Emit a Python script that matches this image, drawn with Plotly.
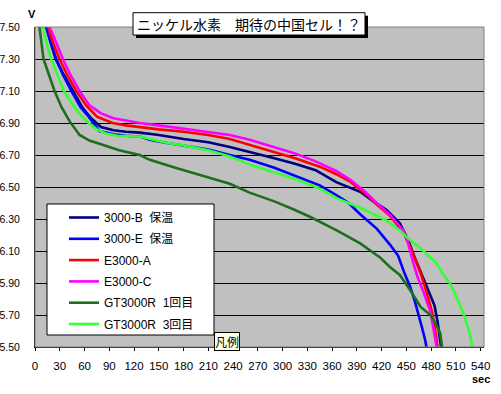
import plotly.graph_objects as go

# ---- data ----
series_names = ["3000-B\u00a0\u00a0保温", "3000-E\u00a0\u00a0保温", "E3000-A", "E3000-C",
                "GT3000R\u00a0\u00a01回目", "GT3000R\u00a0\u00a03回目"]
series_colors = ["#000080", "#0000FF", "#FF0000", "#FF00FF", "#1E6E1E", "#33FF33"]

t_b = [0, 13.6, 19, 25, 35, 46, 57, 68, 80, 95, 110, 127, 150, 180, 210, 236, 260, 290, 315,
       340, 365, 380, 394, 410, 426, 442, 452, 460, 470, 478, 484, 488, 491, 492.5]
v_b = [7.75, 7.50, 7.40, 7.30, 7.20, 7.10, 7.00, 6.93, 6.875, 6.855, 6.845, 6.84, 6.825, 6.80,
       6.78, 6.75, 6.72, 6.68, 6.645, 6.605, 6.53, 6.50, 6.47, 6.41, 6.356, 6.273, 6.17, 6.06,
       5.94, 5.84, 5.76, 5.65, 5.55, 5.48]

t_e = [0, 13.6, 19, 25.7, 34, 44, 55, 65, 78, 95, 110, 127, 139, 160, 180, 210, 236, 260, 290,
       315, 345, 365, 380, 394, 414, 430, 440, 447, 454.5, 460, 464.6, 469, 472.7, 475]
v_e = [7.75, 7.50, 7.40, 7.30, 7.20, 7.10, 7.00, 6.94, 6.85, 6.83, 6.82, 6.815, 6.795, 6.775,
       6.76, 6.735, 6.70, 6.67, 6.62, 6.57, 6.51, 6.45, 6.40, 6.33, 6.24, 6.14, 6.07, 5.97, 5.877,
       5.79, 5.71, 5.62, 5.544, 5.48]

t_a = [0, 15.5, 22, 29.7, 39, 50, 62, 75, 94, 110, 127, 150, 180, 210, 236, 260, 290, 315, 345,
       365, 382, 400, 414, 430, 446, 455, 462, 468, 474, 481, 486, 488]
v_a = [7.75, 7.50, 7.40, 7.30, 7.20, 7.10, 7.01, 6.94, 6.90, 6.885, 6.873, 6.86, 6.845, 6.825,
       6.80, 6.765, 6.72, 6.68, 6.627, 6.58, 6.533, 6.46, 6.39, 6.32, 6.22, 6.12, 6.03, 5.95, 5.85,
       5.72, 5.57, 5.48]

t_c = [0, 17.6, 26, 33.8, 43, 54, 66, 80, 95, 110, 127, 150, 180, 210, 236, 260, 290, 315, 340,
       365, 382, 400, 414, 430, 446, 452, 458, 464, 471, 479, 485, 487]
v_c = [7.78, 7.50, 7.40, 7.30, 7.20, 7.10, 7.01, 6.96, 6.93, 6.915, 6.90, 6.885, 6.865, 6.845,
       6.825, 6.795, 6.75, 6.71, 6.66, 6.60, 6.545, 6.47, 6.40, 6.325, 6.23, 6.15, 6.03, 5.93,
       5.84, 5.72, 5.55, 5.48]

t_g1 = [0, 5.5, 8, 10.3, 17, 23.7, 32, 42, 54, 66, 78, 102, 127, 139, 170, 200, 236, 260, 290,
        315, 333, 365, 394, 418, 430, 442, 454.5, 467, 479, 485, 491, 493.7]
v_g1 = [7.72, 7.50, 7.40, 7.30, 7.20, 7.10, 7.00, 6.91, 6.825, 6.79, 6.77, 6.73, 6.70, 6.67,
        6.62, 6.575, 6.52, 6.465, 6.41, 6.356, 6.314, 6.23, 6.148, 6.06, 6.00, 5.95, 5.856, 5.752,
        5.70, 5.65, 5.586, 5.48]

t_g3 = [0, 9.5, 14, 19.6, 27, 35, 45, 55, 65, 75, 86, 100, 127, 139, 160, 180, 210, 236, 260,
        290, 315, 345, 365, 394, 410, 426, 442, 454, 467, 478, 487, 495, 503, 511, 519, 526, 531]
v_g3 = [7.72, 7.50, 7.40, 7.30, 7.20, 7.10, 7.02, 6.95, 6.90, 6.86, 6.835, 6.82, 6.815, 6.80,
        6.775, 6.76, 6.73, 6.69, 6.64, 6.59, 6.55, 6.49, 6.43, 6.37, 6.33, 6.29, 6.23, 6.17, 6.117,
        6.06, 6.02, 5.95, 5.898, 5.81, 5.71, 5.60, 5.48]

series_t = [t_b, t_e, t_a, t_c, t_g1, t_g3]
series_v = [v_b, v_e, v_a, v_c, v_g1, v_g3]

y_ticks = [5.50, 5.70, 5.90, 6.10, 6.30, 6.50, 6.70, 6.90, 7.10, 7.30, 7.50]
x_ticks = list(range(0, 541, 30))

title_text = "ニッケル水素　期待の中国セル！？"

# ---- figure ----
W, H = 501, 394
ML, MR, MT, MB = 35, 17, 27, 47
PW, PH = W - ML - MR, H - MT - MB


def px_x(px):
    return (px - ML) / PW


def px_y(py):
    return (H - MB - py) / PH


fig = go.Figure()
for i, (name, col, tt, vv) in enumerate(zip(series_names, series_colors, series_t, series_v)):
    fig.add_trace(go.Scatter(x=tt, y=vv, mode="lines", name=name, legendgroup=f"g{i}",
                             line=dict(color=col, width=2.6)))

num_font = "Liberation Sans, Arial, sans-serif"
cjk_font = "Liberation Sans, Noto Sans CJK JP, sans-serif"

fig.update_layout(
    width=W, height=H,
    margin=dict(l=ML, r=MR, t=MT, b=MB, pad=0, autoexpand=False),
    paper_bgcolor="white",
    plot_bgcolor="#C0C0C0",
    showlegend=True,
    legend=dict(
        x=px_x(64), y=px_y(203), xanchor="left", yanchor="top",
        bgcolor="rgba(0,0,0,0)", borderwidth=0,
        font=dict(family=cjk_font, size=12, color="black"),
        itemwidth=30, tracegroupgap=2.3,
    ),
    xaxis=dict(
        range=[0, 544], tickvals=x_ticks, ticktext=[str(v) for v in x_ticks],
        showgrid=False, zeroline=False, automargin=False,
        showline=True, linecolor="black", linewidth=1,
        ticks="outside", ticklen=3, tickcolor="black", ticklabelstandoff=5,
        tickfont=dict(family=num_font, size=11.5, color="black"),
    ),
    yaxis=dict(
        range=[5.5, 7.5], tickvals=y_ticks, ticktext=[f"{v:.2f}" for v in y_ticks],
        showgrid=True, gridcolor="black", gridwidth=1, zeroline=False, automargin=False,
        showline=True, linecolor="black", linewidth=1,
        ticks="", ticklabelstandoff=12,
        tickfont=dict(family=num_font, size=10.5, color="black"),
    ),
)

shapes = [
    # plot-area border (right/top grey edge)
    dict(type="rect", xref="paper", yref="paper", x0=0, x1=1, y0=0, y1=1,
         line=dict(color="#808080", width=1), fillcolor="rgba(0,0,0,0)", layer="above"),
    # title shadow + box
    dict(type="rect", xref="paper", yref="paper", x0=px_x(136), x1=px_x(368),
         y0=px_y(38), y1=px_y(15.7), line=dict(width=0), fillcolor="black", layer="above"),
    dict(type="rect", xref="paper", yref="paper", x0=px_x(133), x1=px_x(365),
         y0=px_y(35), y1=px_y(12.7), line=dict(color="black", width=1),
         fillcolor="white", layer="above"),
    # legend box
    dict(type="rect", xref="paper", yref="paper", x0=px_x(47), x1=px_x(214),
         y0=px_y(335), y1=px_y(204), line=dict(color="black", width=1),
         fillcolor="white", layer="above"),
]
fig.update_layout(shapes=shapes)

fig.add_annotation(text=title_text, xref="paper", yref="paper",
                   x=px_x(249), y=px_y(24), xanchor="center", yanchor="middle",
                   showarrow=False, font=dict(family="Noto Sans CJK JP", size=14, color="black"))
fig.add_annotation(text="<b>V</b>", xref="paper", yref="paper",
                   x=px_x(32), y=px_y(14), xanchor="center", yanchor="middle",
                   showarrow=False, font=dict(family="Liberation Sans, Arial", size=11, color="black"))
fig.add_annotation(text="<b>sec</b>", xref="paper", yref="paper",
                   x=px_x(481), y=px_y(379), xanchor="center", yanchor="middle",
                   showarrow=False, font=dict(family="Liberation Sans, Arial", size=11, color="black"))
fig.add_annotation(text="凡例", xref="paper", yref="paper",
                   x=px_x(227), y=px_y(341.5), xanchor="center", yanchor="middle",
                   showarrow=False, bgcolor="#FFFFE1", bordercolor="black", borderwidth=1,
                   borderpad=0,
                   font=dict(family="Noto Sans CJK JP", size=12, color="black"))

fig.write_html("out.html", config={"displayModeBar": False},
               post_script="document.body.style.margin='0px';")
